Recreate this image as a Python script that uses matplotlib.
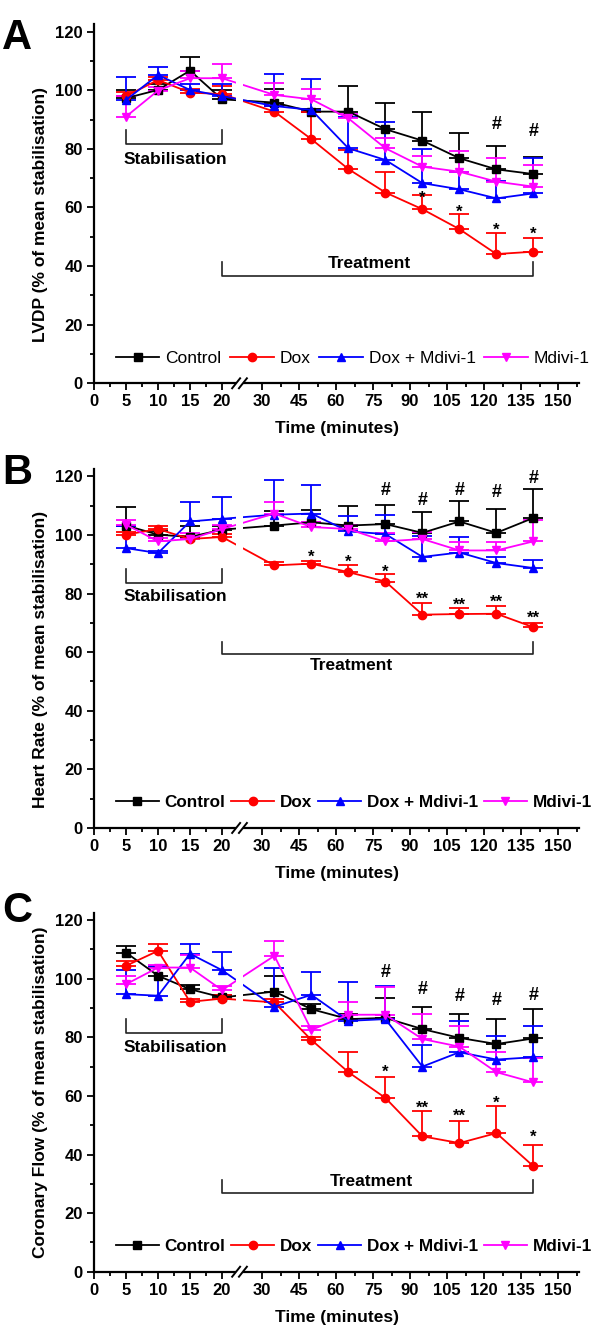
import matplotlib
matplotlib.use('Agg')
import matplotlib.pyplot as plt
import numpy as np
from matplotlib.patches import Rectangle

plt.rcParams['font.family'] = ['Liberation Sans', 'DejaVu Sans']

time = [5, 10, 15, 20, 35, 50, 65, 80, 95, 110, 125, 140]
groups = ['Control', 'Dox', 'Dox + Mdivi-1', 'Mdivi-1']
colors = ['black', '#ff0000', '#0000ff', '#ff00ff']
markers = ['s', 'o', '^', 'v']

# LVDP
lvdp_ctrl = [97.3, 100.1, 106.7, 96.9, 95.8, 92.7, 92.7, 86.7, 82.8, 76.8, 73.0, 71.4]
lvdp_ctrl_err = [2.7, 1.9, 4.8, 3.2, 4.5, 0.8, 8.8, 9.1, 9.7, 8.5, 8.1, 5.9]
lvdp_dox = [98.0, 103.5, 99.2, 98.7, 92.7, 83.3, 73.1, 65.1, 59.4, 52.6, 44.1, 44.9]
lvdp_dox_err = [1.5, 1.0, 1.3, 2.8, 1.8, 9.2, 6.5, 7.1, 4.9, 5.1, 7.1, 4.6]
lvdp_doxmd = [96.7, 105.2, 100.1, 98.0, 94.6, 93.3, 80.2, 76.2, 68.3, 66.2, 63.1, 64.8]
lvdp_doxmd_err = [7.8, 2.6, 1.9, 4.0, 11.0, 10.5, 10.8, 12.8, 11.6, 5.8, 5.9, 12.2]
lvdp_md = [91.0, 99.9, 104.1, 104.1, 98.4, 96.9, 90.4, 80.2, 73.9, 72.2, 68.8, 67.1]
lvdp_md_err = [7.0, 1.1, 2.6, 4.9, 4.0, 3.4, 1.6, 3.4, 3.7, 7.2, 8.0, 7.4]

# Heart rate
hr_ctrl = [103.2, 100.1, 99.3, 101.8, 103.2, 104.3, 103.2, 103.7, 100.7, 104.6, 100.7, 105.8]
hr_ctrl_err = [6.3, 1.4, 3.7, 1.2, 4.8, 4.2, 6.6, 6.6, 7.0, 6.9, 8.3, 9.9]
hr_dox = [100.1, 102.0, 98.6, 99.3, 89.6, 90.2, 87.3, 84.1, 72.8, 73.0, 73.1, 68.5]
hr_dox_err = [0.8, 1.0, 1.0, 1.0, 1.0, 1.0, 2.5, 2.4, 3.9, 2.0, 2.5, 1.5]
hr_doxmd = [95.5, 93.8, 104.6, 105.5, 106.9, 107.3, 101.2, 100.3, 92.5, 94.0, 90.4, 88.7]
hr_doxmd_err = [7.5, 0.7, 6.5, 7.3, 11.7, 9.9, 5.1, 6.5, 7.0, 5.3, 2.1, 2.6]
hr_md = [103.5, 97.8, 98.6, 102.0, 107.3, 102.7, 102.0, 97.8, 98.6, 94.7, 94.7, 97.8]
hr_md_err = [1.5, 1.2, 1.9, 1.5, 3.8, 1.8, 1.5, 2.7, 2.4, 2.8, 2.8, 7.4]

# Coronary flow
cf_ctrl = [108.9, 101.0, 96.4, 93.6, 95.6, 89.6, 86.2, 86.6, 82.8, 79.8, 77.7, 79.6]
cf_ctrl_err = [2.3, 3.0, 1.5, 0.9, 5.4, 1.9, 1.8, 6.8, 7.4, 8.1, 8.7, 10.0]
cf_dox = [104.4, 109.5, 92.1, 93.2, 91.9, 79.1, 68.1, 59.3, 46.2, 43.9, 47.3, 36.0]
cf_dox_err = [1.6, 2.4, 0.9, 1.3, 1.1, 0.9, 6.8, 7.3, 8.6, 7.4, 9.1, 7.1]
cf_doxmd = [94.7, 94.2, 108.5, 102.9, 90.4, 94.5, 85.6, 86.2, 70.0, 74.9, 72.4, 73.2]
cf_doxmd_err = [8.3, 10.2, 3.2, 6.2, 13.4, 7.9, 13.1, 11.4, 7.5, 10.5, 8.1, 10.7]
cf_md = [98.1, 103.8, 103.8, 96.1, 107.8, 82.5, 87.7, 87.7, 79.4, 76.8, 68.1, 64.6]
cf_md_err = [2.9, 0.7, 4.2, 1.4, 5.1, 1.5, 4.5, 9.3, 8.7, 7.2, 6.9, 8.4]

# significance marks: (time, y, text)
lvdp_marks = [(95, 65.0, '*'), (110, 60.3, '*'), (125, 54.0, '*'), (140, 52.6, '*'),
              (125, 89.0, '#'), (140, 86.7, '#')]
hr_marks = [(80, 115.7, '#'), (95, 112.6, '#'), (110, 115.7, '#'), (125, 115.0, '#'),
            (140, 120.0, '#'), (50, 94.4, '*'), (65, 92.7, '*'), (80, 89.3, '*'),
            (95, 79.9, '**'), (110, 77.9, '**'), (125, 79.0, '**'), (140, 73.5, '**')]
cf_marks = [(80, 102.7, '#'), (95, 97.0, '#'), (110, 94.7, '#'), (125, 93.4, '#'),
            (140, 94.9, '#'), (80, 69.8, '*'), (95, 57.8, '**'), (110, 55.0, '**'),
            (125, 59.3, '*'), (140, 47.6, '*')]

xticks_major = [0, 5, 10, 15, 20, 30, 45, 60, 75, 90, 105, 120, 135, 150]
xticks_minor = [2.5, 7.5, 12.5, 17.5, 37.5, 52.5, 67.5, 82.5, 97.5, 112.5, 127.5, 142.5, 157.5]


def fwd(t):
    t = np.asarray(t, dtype=float)
    return np.where(t <= 22.5, t, 26.25 + (t - 30) * 0.3854)


def inv(u):
    u = np.asarray(u, dtype=float)
    return np.where(u <= 22.9, u, 30 + (u - 26.25) / 0.3854)


panels = [
    dict(letter='A', ylabel='LVDP (% of mean stabilisation)',
         means=[lvdp_ctrl, lvdp_dox, lvdp_doxmd, lvdp_md],
         errs=[lvdp_ctrl_err, lvdp_dox_err, lvdp_doxmd_err, lvdp_md_err],
         marks=lvdp_marks, stab=(81.7, 86.3, 76.5), treat=(36.7, 41.4, 41.0, 73.7),
         bottom=0.7129, legbold=False, ylab_y=0.47, letter_top=18),
    dict(letter='B', ylabel='Heart Rate (% of mean stabilisation)',
         means=[hr_ctrl, hr_dox, hr_doxmd, hr_md],
         errs=[hr_ctrl_err, hr_dox_err, hr_doxmd_err, hr_md_err],
         marks=hr_marks, stab=(83.6, 88.3, 79.0), treat=(59.4, 63.3, 55.3, 66.4),
         bottom=0.3798, legbold=True, ylab_y=0.47, letter_top=453),
    dict(letter='C', ylabel='Coronary Flow (% of mean stabilisation)',
         means=[cf_ctrl, cf_dox, cf_doxmd, cf_md],
         errs=[cf_ctrl_err, cf_dox_err, cf_doxmd_err, cf_md_err],
         marks=cf_marks, stab=(81.5, 86.2, 76.6), treat=(26.9, 31.4, 30.9, 74.4),
         bottom=0.0474, legbold=True, ylab_y=0.5, letter_top=891),
]

fig = plt.figure(figsize=(6.05, 13.35), dpi=100)
fs = 12

for p in panels:
    ax = fig.add_axes([0.1554, p['bottom'], 0.8017, 0.2689])
    ax.set_xscale('function', functions=(fwd, inv))
    handles = []
    for m, e, c, mk in zip(p['means'], p['errs'], colors, markers):
        eb = ax.errorbar(time, m, yerr=[np.zeros(len(e)), e], color=c, marker=mk,
                         ms=6, lw=1.3, elinewidth=1.3, capsize=7, capthick=1.3)
        handles.append(eb[0])
    ax.set_xlim(0, 158.5)
    ax.set_ylim(0, 122.5)
    ax.set_xticks(xticks_major)
    ax.set_xticklabels([str(t) for t in xticks_major])
    ax.set_xticks(xticks_minor, minor=True)
    ax.set_yticks([0, 20, 40, 60, 80, 100, 120])
    ax.set_yticks([10, 30, 50, 70, 90, 110], minor=True)
    ax.tick_params(which='major', direction='out', length=5, width=1.3, labelsize=fs, pad=3)
    ax.tick_params(which='minor', direction='out', length=3, width=1.3)
    for lab in ax.get_xticklabels() + ax.get_yticklabels():
        lab.set_fontweight('bold')
    for s in ['top', 'right']:
        ax.spines[s].set_visible(False)
    for s in ['left', 'bottom']:
        ax.spines[s].set_linewidth(1.6)

    ax.set_ylabel(p['ylabel'], fontsize=12.5, fontweight='bold')
    ax.yaxis.set_label_coords(-0.095, p['ylab_y'])
    ax.set_xlabel('Time (minutes)', fontsize=12.5, fontweight='bold')
    ax.xaxis.set_label_coords(0.5, -0.106)

    # axis break
    ax.add_patch(Rectangle((0.293, -0.01), 0.014, 1.01, transform=ax.transAxes,
                           facecolor='white', edgecolor='none', zorder=3, clip_on=False))
    for xc in [0.293, 0.307]:
        ax.plot([xc - 0.0082, xc + 0.0082], [-0.0139, 0.0139], transform=ax.transAxes,
                color='black', lw=1.4, zorder=5, clip_on=False)

    # brackets
    ly, ty, txt_y = p['stab']
    ax.plot([5, 5, 20, 20], [ty, ly, ly, ty], color='#222222', lw=1.2, zorder=4)
    ax.text(12.7, txt_y, 'Stabilisation', ha='center', va='center', fontsize=12.5,
            fontweight='bold', zorder=4)
    ly, ty, txt_y, txt_x = p['treat']
    ax.plot([20, 20, 140, 140], [ty, ly, ly, ty], color='#222222', lw=1.2, zorder=4)
    ax.text(txt_x, txt_y, 'Treatment', ha='center', va='center', fontsize=12.5,
            fontweight='bold', zorder=4)

    for t, y, s in p['marks']:
        if s == '#':
            ax.annotate(s, (t, y), xytext=(0, -4.7), textcoords='offset points',
                        ha='center', va='baseline', fontsize=13, fontweight='bold')
        else:
            ax.annotate(s, (t, y), xytext=(0, -7.2), textcoords='offset points',
                        ha='center', va='baseline', fontsize=12, fontweight='bold')

    leg = ax.legend(handles, groups, ncol=4, loc='center left',
                    bbox_to_anchor=(0.045, 8.6 / 122.5), frameon=False, numpoints=1,
                    handlelength=2.5, handletextpad=0.35,
                    columnspacing=0.35 if p['legbold'] else 0.5,
                    borderpad=0, borderaxespad=0,
                    prop=dict(size=12.3 if p['legbold'] else 12.5,
                              weight='bold' if p['legbold'] else 'normal'))

    fig.text(0.004, 1 - p['letter_top'] / 1335, p['letter'], fontsize=30,
             fontweight='bold', va='top', ha='left')

fig.savefig('out.png', dpi=100)
